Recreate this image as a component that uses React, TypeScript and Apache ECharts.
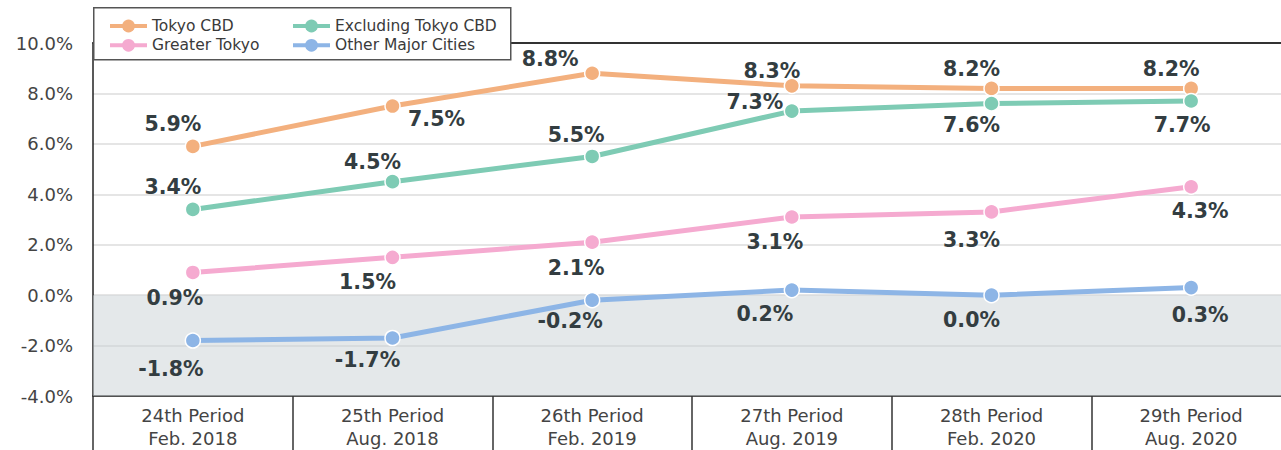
import React, { useEffect, useRef } from "react";
import * as echarts from "echarts";

const categories = [
  "24th Period\nFeb. 2018",
  "25th Period\nAug. 2018",
  "26th Period\nFeb. 2019",
  "27th Period\nAug. 2019",
  "28th Period\nFeb. 2020",
  "29th Period\nAug. 2020",
];

const tokyoCBD = [5.9, 7.5, 8.8, 8.3, 8.2, 8.2];
const excludingTokyoCBD = [3.4, 4.5, 5.5, 7.3, 7.6, 7.7];
const greaterTokyo = [0.9, 1.5, 2.1, 3.1, 3.3, 4.3];
const otherMajorCities = [-1.8, -1.7, -0.2, 0.2, 0.0, 0.3];

// label offsets (px from the point centre) — styling only
const offTokyo = [[-20, -22], [44, 13], [-42, -14], [-20, -15], [-20, -19], [-20, -19]];
const offExcl = [[-20, -22], [-20, -20], [-16, -21], [-37, -9], [-20, 21], [-9, 24]];
const offGreater = [[-18, 26], [-25, 25], [-16, 26], [-17, 25], [-20, 28], [9, 24]];
const offOther = [[-22, 28], [-25, 22], [-22, 21], [-27, 24], [-20, 25], [9, 27]];

const FONT = "DejaVu Sans";

function mk(name: string, values: number[], offs: number[][], color: string, extra: any = {}) {
  return {
    name,
    type: "line",
    xAxisIndex: 0,
    yAxisIndex: 0,
    data: values.map((v, i) => ({ value: v, label: { offset: offs[i] } })),
    symbol: "circle",
    symbolSize: 15,
    lineStyle: { width: 5, color },
    itemStyle: { color, borderColor: "#ffffff", borderWidth: 1.5 },
    label: {
      show: true,
      position: "inside",
      formatter: (p: any) => Number(p.value).toFixed(1) + "%",
      fontFamily: FONT,
      fontWeight: "bold",
      fontSize: 20.5,
      color: "#333d41",
    },
    z: 3,
    ...extra,
  };
}

export default function App() {
  const ref = useRef<HTMLDivElement>(null);
  useEffect(() => {
    if (!ref.current) return;
    const chart = echarts.init(ref.current, undefined, { renderer: "svg" });
    const legendCommon = {
      orient: "vertical",
      top: 13,
      itemWidth: 37,
      itemHeight: 16,
      itemGap: 3.3,
      lineStyle: { width: 4 },
      itemStyle: { borderWidth: 0 },
      textStyle: { fontFamily: FONT, fontSize: 15.5, color: "#3a3a3a", lineHeight: 16 },
      z: 20,
    };
    chart.setOption({
      animation: false,
      backgroundColor: "#ffffff",
      textStyle: { fontFamily: FONT },
      grid: { left: 93, top: 43, right: 0, height: 353.5, containLabel: false },
      legend: [
        { ...legendCommon, left: 103, data: ["Tokyo CBD", "Greater Tokyo"] },
        { ...legendCommon, left: 286, data: ["Excluding Tokyo CBD", "Other Major Cities"] },
      ],
      graphic: [
        {
          type: "rect",
          left: 93,
          top: 7,
          shape: { width: 417, height: 52 },
          style: { fill: "#ffffff", stroke: "#555555", lineWidth: 1.5 },
          z: 10,
        },
      ],
      xAxis: [
        {
          type: "category",
          data: categories,
          boundaryGap: true,
          axisLine: { show: true, onZero: false, lineStyle: { color: "#222222", width: 1.5 } },
          axisTick: { show: true, interval: 0, length: 60, lineStyle: { color: "#333333", width: 1.5 } },
          axisLabel: {
            interval: 0,
            margin: 8,
            fontFamily: FONT,
            fontSize: 18,
            lineHeight: 23,
            color: "#444444",
          },
          splitLine: { show: false },
        },
        {
          type: "category",
          position: "top",
          data: categories,
          axisLine: { show: true, onZero: false, lineStyle: { color: "#333333", width: 2 } },
          axisTick: { show: false },
          axisLabel: { show: false },
          splitLine: { show: false },
        },
      ],
      yAxis: {
        type: "value",
        min: -4,
        max: 10,
        interval: 2,
        axisLine: { show: true, onZero: false, lineStyle: { color: "#222222", width: 1.5 } },
        axisTick: { show: false },
        axisLabel: {
          margin: 20,
          fontFamily: FONT,
          fontSize: 18,
          color: "#444444",
          formatter: (v: number) => v.toFixed(1) + "%",
        },
        splitLine: { show: true, lineStyle: { color: "#dddddd", width: 1.5 } },
      },
      series: [
        mk("Tokyo CBD", tokyoCBD, offTokyo, "#f3b07e", {
          markArea: {
            silent: true,
            itemStyle: { color: "rgba(201,209,213,0.5)" },
            label: { show: false },
            data: [[{ yAxis: 0 }, { yAxis: -4 }]],
          },
        }),
        mk("Excluding Tokyo CBD", excludingTokyoCBD, offExcl, "#7ecbb4"),
        mk("Greater Tokyo", greaterTokyo, offGreater, "#f5aad0"),
        mk("Other Major Cities", otherMajorCities, offOther, "#8db5e6"),
      ],
    });
    return () => chart.dispose();
  }, []);
  return (
    <div
      ref={ref}
      style={{ position: "fixed", left: 0, top: 0, width: 1291, height: 450 }}
    />
  );
}
